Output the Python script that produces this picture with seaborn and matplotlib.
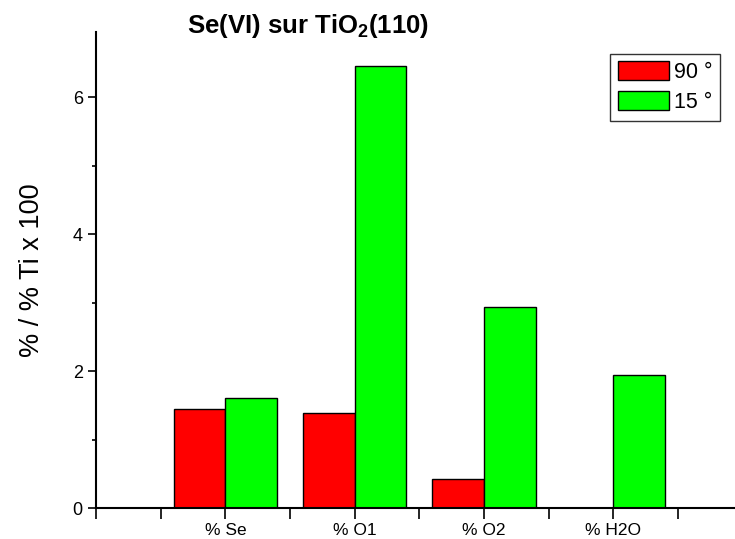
import matplotlib
matplotlib.use("Agg")
import matplotlib.pyplot as plt
import seaborn as sns
import pandas as pd
from matplotlib.ticker import MultipleLocator

categories = ["% Se", "% O1", "% O2", "% H2O"]
series_names = ["90 °", "15 °"]
values_90 = [1.45, 1.39, 0.42, 0.0]
values_15 = [1.60, 6.45, 2.93, 1.94]
colors = ["#FF0000", "#00FF00"]
y_ticks = [0, 2, 4, 6]

df = pd.DataFrame({
    "cat": categories * 2,
    "val": values_90 + values_15,
    "series": [series_names[0]] * 4 + [series_names[1]] * 4,
})

sns.set_style("ticks")
plt.rcParams["font.family"] = ["Liberation Sans", "DejaVu Sans"]
plt.rcParams["mathtext.fontset"] = "custom"
plt.rcParams["mathtext.rm"] = "Liberation Sans"
plt.rcParams["mathtext.bf"] = "Liberation Sans:bold"
for k in ["text.color", "axes.labelcolor", "xtick.color", "ytick.color", "axes.edgecolor"]:
    plt.rcParams[k] = "black"

fig = plt.figure(figsize=(7.35, 5.39), dpi=100)
ax = fig.add_axes([0.1306, 0.0575, 0.8694, 0.883])

sns.barplot(data=df, x="cat", y="val", hue="series", order=categories,
            hue_order=series_names, palette=colors, width=0.8,
            edgecolor="black", linewidth=1.0, saturation=1, ax=ax, legend=True)

ax.set_xlim(-1, 3.94)
ax.set_ylim(0, 6.95)
ax.set_xticks([i * 0.5 - 1 for i in range(10)])
labels = []
for i in range(10):
    p = i * 0.5 - 1
    if p >= 0 and abs(p - round(p)) < 1e-9 and int(round(p)) < len(categories):
        labels.append(categories[int(round(p))])
    else:
        labels.append("")
ax.set_xticklabels(labels, fontsize=12.5)
ax.set_yticks(y_ticks)
ax.set_yticklabels([str(t) for t in y_ticks], fontsize=13)
ax.yaxis.set_minor_locator(MultipleLocator(1))
ax.tick_params(axis="y", which="major", length=6, width=1.2, direction="out")
ax.tick_params(axis="y", which="minor", length=3, width=1.2, direction="out")
ax.tick_params(axis="x", which="major", length=8, width=1.2, direction="out", pad=2.5)

ax.set_xlabel("")
ax.set_ylabel("% / % Ti x 100", fontsize=19.5, labelpad=20)
for s in ["top", "right"]:
    ax.spines[s].set_visible(False)
for s in ["left", "bottom"]:
    ax.spines[s].set_linewidth(1.5)

ax.text(0.332, 0.998, r"Se(VI) sur TiO$_{\mathbf{2}}$(110)", fontsize=18.5,
        fontweight="bold", ha="center", va="baseline", transform=ax.transAxes)

leg = ax.legend(loc="upper right", bbox_to_anchor=(0.9765, 0.954), fontsize=15.5,
                frameon=True, fancybox=False, handlelength=2.35, handleheight=0.95,
                handletextpad=0.25, borderpad=0.35, labelspacing=0.38, borderaxespad=0)
leg.get_frame().set_edgecolor("black")
leg.get_frame().set_linewidth(1.0)

fig.savefig("out.png", dpi=100)
